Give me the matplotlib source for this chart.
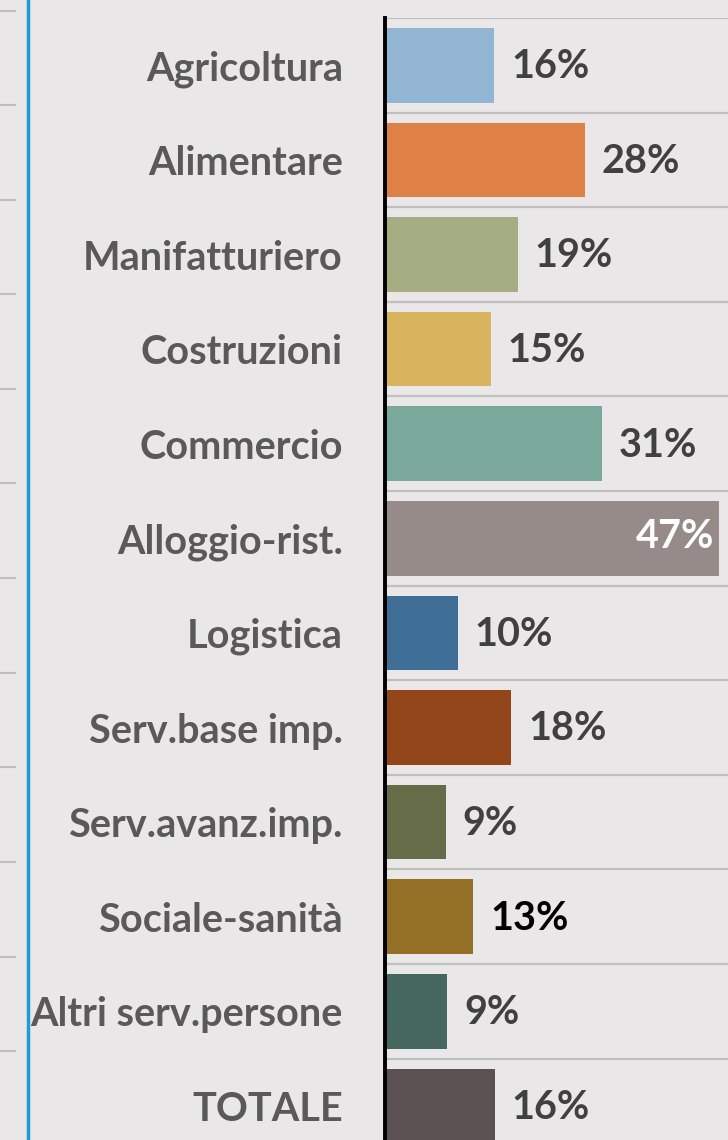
import matplotlib
matplotlib.use("Agg")
import matplotlib.pyplot as plt
from matplotlib.lines import Line2D

settori = ["Agricoltura", "Alimentare", "Manifatturiero", "Costruzioni", "Commercio",
           "Alloggio-rist.", "Logistica", "Serv.base imp.", "Serv.avanz.imp.",
           "Sociale-sanità", "Altri serv.persone", "TOTALE"]
quote = [15.6, 28.4, 18.9, 15.1, 30.9, 47.4, 10.4, 18.0, 8.7, 12.6, 8.9, 15.7]
colori = ["#93B5D4", "#DF8147", "#A5AD82", "#D9B45F", "#7AA99C", "#968B89",
          "#3F6F97", "#94461B", "#656C47", "#937026", "#466760", "#5B5152"]

W, H = 728, 1140
bg = "#E9E7E8"
plt.rcParams['font.family'] = ['Lato', 'DejaVu Sans']

fig = plt.figure(figsize=(W / 100, H / 100), dpi=100, facecolor=bg)
# plot area: zero at x=384.5px, rows of 94.6px starting at y=18px
x0, y_top, pitch = 384.5, 18, 94.6
y_bot = y_top + pitch * len(settori)
ax = fig.add_axes([x0 / W, 1 - y_bot / H, (W - x0) / W, (y_bot - y_top) / H])
ax.set_facecolor(bg)

pos = list(range(len(settori)))
ax.barh(pos, quote, height=0.79, color=colori, zorder=2)
ax.set_xlim(0, (W - x0) / 7.05)
ax.set_ylim(len(settori) - 0.5, -0.5)

fs = 28.5
ax.set_yticks(pos)
ax.set_yticklabels(settori, fontsize=fs, fontweight='bold', color='#595959')
ax.tick_params(axis='y', length=0, pad=30)
ax.set_xticks([])
ax.set_yticks([p - 0.5 for p in pos] + [len(settori) - 0.5], minor=True)
ax.tick_params(axis='y', which='minor', length=0)
ax.grid(axis='y', which='minor', color='#BFBFBF', linewidth=1.6, zorder=1)

for s in ['top', 'right', 'bottom']:
    ax.spines[s].set_visible(False)
ax.spines['left'].set_color('black')
ax.spines['left'].set_linewidth(2.8)
ax.spines['left'].set_zorder(3)

for i, v in enumerate(quote):
    lab = f"{v:.0f}%"
    if v > 40:
        ax.annotate(lab, (v, i), xytext=(-3, 1), textcoords='offset points',
                    ha='right', va='center', fontsize=fs, fontweight='bold', color='white')
    else:
        col = 'black' if settori[i] == "Sociale-sanità" else '#404040'
        ax.annotate(lab, (v, i), xytext=(12, -1), textcoords='offset points',
                    ha='left', va='center', fontsize=fs, fontweight='bold', color=col)

# pieces of the neighbouring chart on the left
fig.add_artist(Line2D([28 / W, 28 / W], [0, 1], color='#1E9BD7', linewidth=2.5))
for k in range(12):
    yy = 1 - (10.5 + 94.6 * k) / H
    fig.add_artist(Line2D([0, 15 / W], [yy, yy], color='#BFBFBF', linewidth=1.5))

fig.savefig("out.png", dpi=100, facecolor=bg)
